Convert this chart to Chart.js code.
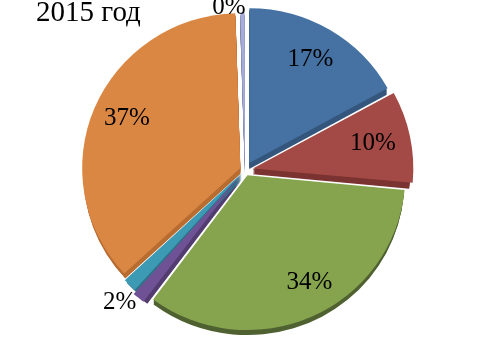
<!DOCTYPE html>
<html><head><meta charset="utf-8">
<style>html,body{margin:0;padding:0;background:#fff}#w{width:491px;height:340px;position:relative}</style>
<script src="https://cdn.jsdelivr.net/npm/chart.js@4/dist/chart.umd.min.js"></script>
</head><body><div id="w"><canvas id="c" width="491" height="340"></canvas></div>
<script>
const titleText = '2015 год';
const categories = ['A','B','C','D','E','F','G'];
const values = [17, 9.5, 33.7, 1.4, 1.5, 36.4, 0.5];
const percentLabels = ['17%','10%','34%','','2%','37%','0%'];
const colors = ['#4672A3','#A34A46','#86A44E','#6F5295','#3C9AB4','#DB8744','#A6ADD8'];
const sideColors = ['#35567C','#7A3330','#4F6130','#523C70','#2C7388','#B86C30','#7C82A6'];
const offsets = [8.3, 8, 6, 6, 4, 5, 2];
const labelRadius = [120, 122.7, 124, 0, 178, 124, 161];
const labelShift = [0, 0, -6, 0, -1, 1, -4.8];
const depth = 6;
const squash = 0.98;

function apex(a){
  const p = a.getProps(['x','y','startAngle','endAngle','outerRadius']);
  const mid = (p.startAngle+p.endAngle)/2, off = a.options.offset/4;
  return {x:p.x+Math.cos(mid)*off, y:p.y+Math.sin(mid)*off, mid, p};
}
const sidePlugin = {
  id:'side',
  beforeDatasetsDraw(chart){
    const ctx = chart.ctx;
    const cy = chart.getDatasetMeta(0).data[0].y;
    ctx.save();
    ctx.translate(0,cy);ctx.scale(1,squash);ctx.translate(0,-cy);
    chart.getDatasetMeta(0).data.forEach((a,i)=>{
      const {x,y,p} = apex(a);
      ctx.save();
      ctx.fillStyle = sideColors[i];
      for(let d=1;d<=depth;d++){
        ctx.beginPath();ctx.moveTo(x,y+d);
        ctx.arc(x,y+d,p.outerRadius,p.startAngle,p.endAngle);
        ctx.closePath();ctx.fill();
      }
      ctx.restore();
    });
  },
  afterDatasetsDraw(chart){
    const ctx = chart.ctx;
    ctx.restore();
    ctx.save();
    ctx.fillStyle='#000';ctx.textAlign='center';ctx.textBaseline='middle';
    ctx.font='25px "Liberation Serif"';
    chart.getDatasetMeta(0).data.forEach((a,i)=>{
      if(!percentLabels[i]) return;
      const {x,y,mid,p} = apex(a);
      const sy = p.y+(y-p.y)*squash;
      const t = mid+labelShift[i]*Math.PI/180;
      ctx.fillText(percentLabels[i], x+Math.cos(t)*labelRadius[i], sy+Math.sin(t)*labelRadius[i]);
    });
    ctx.textAlign='left';ctx.textBaseline='alphabetic';
    ctx.font='29px "Liberation Serif"';
    ctx.fillText(titleText,36,21);
    ctx.restore();
  }
};

new Chart(document.getElementById('c'),{
  type:'pie',
  data:{labels:categories,datasets:[{data:values,backgroundColor:colors,borderWidth:0,offset:offsets.map(v=>v*4)}]},
  plugins:[sidePlugin],
  options:{
    responsive:false,animation:false,
    radius:157,
    layout:{padding:{left:0,right:1,top:0,bottom:0}},
    plugins:{legend:{display:false},tooltip:{enabled:false},title:{display:false}}
  }
});
</script></body></html>
